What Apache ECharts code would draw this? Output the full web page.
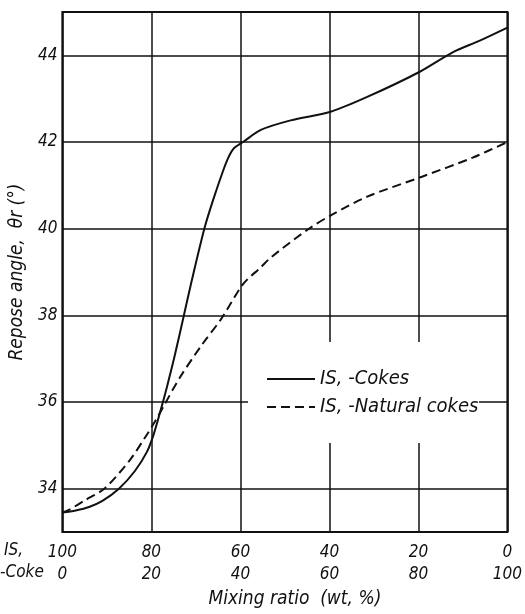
<!DOCTYPE html>
<html><head><meta charset="utf-8">
<script src="https://cdn.jsdelivr.net/npm/echarts@6/dist/echarts.min.js"></script>
<style>html,body{margin:0;padding:0;background:#fff}#c{width:525px;height:614px}</style>
</head><body><div id="c"></div>
<script>
// x = Coke wt% (IS wt% = 100 - x)
const cokesX = [0, 3, 6, 9, 12.7, 16.3, 19, 20.5, 22, 23.5, 25.2, 27.2, 29, 31.9, 33.9, 36.2, 37.3, 38.5, 40.6, 44.6, 51.3, 60.3, 68.5, 80.1, 87.7, 93.8, 100];
const cokesY = [33.45, 33.5, 33.58, 33.72, 34.0, 34.41, 34.85, 35.25, 35.78, 36.35, 37.05, 37.95, 38.77, 40.0, 40.67, 41.36, 41.64, 41.85, 42.0, 42.28, 42.5, 42.7, 43.04, 43.61, 44.07, 44.34, 44.64];
const naturalX = [0, 1.6, 5, 9.4, 15, 18.5, 20.8, 23, 26.3, 31.2, 35.7, 40.6, 44.6, 46.9, 55.4, 60.7, 68.5, 80.8, 92.2, 100];
const naturalY = [33.45, 33.52, 33.73, 34.0, 34.64, 35.17, 35.55, 35.95, 36.55, 37.3, 37.92, 38.72, 39.11, 39.34, 40.0, 40.33, 40.74, 41.2, 41.64, 42.0];
const isLabels = ['100', '80', '60', '40', '20', '0'];
const cokeLabels = ['0', '20', '40', '60', '80', '100'];
const yTicks = [34, 36, 38, 40, 42, 44];
const seriesNames = ['IS, -Cokes', 'IS, -Natural cokes'];

const FONT = "'Liberation Sans Narrow', 'DejaVu Sans Condensed', 'DejaVu Sans', sans-serif";
const INK = '#111';
const pair = (xs, ys) => xs.map((x, i) => [x, ys[i]]);

const chart = echarts.init(document.getElementById('c'), null, {renderer: 'canvas'});
chart.setOption({
  backgroundColor: '#fff',
  animation: false,
  grid: {left: 60, right: 17, top: 12, bottom: 79, show: true, borderColor: INK, borderWidth: 2, backgroundColor: 'transparent'},
  xAxis: {
    type: 'value', min: 0, max: 100, interval: 20,
    name: 'Mixing ratio  (wt, %)', nameLocation: 'middle', nameGap: 56,
    nameTextStyle: {fontFamily: FONT, fontStyle: 'italic', fontSize: 19, color: INK, padding: [0, 0, 0, 20]},
    axisLine: {show: false}, axisTick: {show: false},
    splitLine: {show: true, lineStyle: {color: INK, width: 1.5}},
    axisLabel: {
      margin: 9, fontFamily: FONT, fontStyle: 'italic', fontSize: 17, color: INK, lineHeight: 22,
      formatter: (v) => { const i = Math.round(v / 20); return isLabels[i] + '\n' + cokeLabels[i]; }
    }
  },
  yAxis: {
    type: 'value', min: 33, max: 45, interval: 1,
    name: 'Repose angle,  θr (°)', nameLocation: 'middle', nameGap: 27,
    nameTextStyle: {fontFamily: FONT, fontStyle: 'italic', fontSize: 19, color: INK},
    axisLine: {show: false}, axisTick: {show: false},
    splitLine: {show: true, lineStyle: {color: ['rgba(0,0,0,0)', INK], width: 1.5}},
    axisLabel: {
      margin: 5, fontFamily: FONT, fontStyle: 'italic', fontSize: 17, color: INK,
      formatter: (v) => yTicks.indexOf(v) >= 0 ? String(v) : ''
    }
  },
  legend: {
    orient: 'vertical', left: 261, top: 364, itemWidth: 48, itemHeight: 14, itemGap: 8,
    itemStyle: {opacity: 0},
    textStyle: {fontFamily: FONT, fontStyle: 'italic', fontSize: 20, color: INK},
    data: seriesNames
  },
  graphic: [
    {type: 'rect', z: 1, shape: {x: 248, y: 342, width: 231, height: 101}, style: {fill: '#fff'}},
    {type: 'text', z: 5, left: 4, top: 542, style: {text: 'IS,', font: "italic 17px " + FONT, fill: INK}},
    {type: 'text', z: 5, left: 0, top: 564, style: {text: '-Coke', font: "italic 17px " + FONT, fill: INK}}
  ],
  series: [
    {name: seriesNames[0], type: 'line', data: pair(cokesX, cokesY), smooth: 0.3, showSymbol: false, symbol: 'none', z: 3,
      lineStyle: {color: INK, width: 2}, itemStyle: {color: INK}},
    {name: seriesNames[1], type: 'line', data: pair(naturalX, naturalY), smooth: 0.3, showSymbol: false, symbol: 'none', z: 3,
      lineStyle: {color: INK, width: 2, type: [9, 5]}, itemStyle: {color: INK}}
  ]
});
</script></body></html>
